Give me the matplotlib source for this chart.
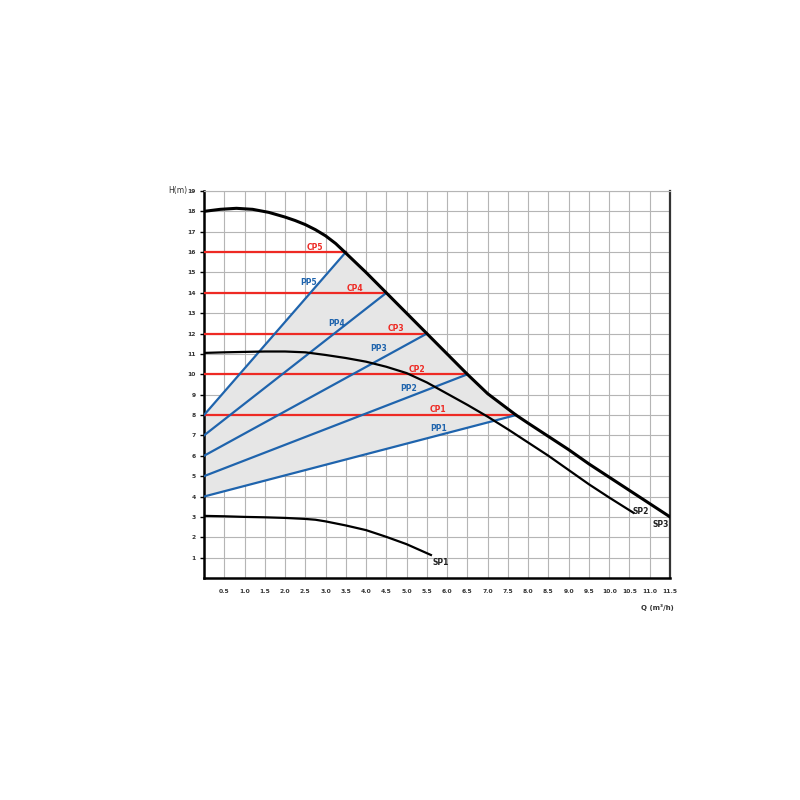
import matplotlib
matplotlib.use("Agg")
import matplotlib.pyplot as plt
import numpy as np

plt.rcParams['font.family'] = ['DejaVu Sans']

# pump curves
sp3_q = [0.0, 0.4, 0.8, 1.2, 1.6, 2.0, 2.25, 2.5, 2.75, 3.0, 3.25, 3.5, 4.0, 4.5, 5.0, 5.5, 6.0, 6.5, 7.0, 7.4, 7.7, 8.0, 8.5, 9.0, 9.5, 10.0, 10.5, 11.0, 11.5]
sp3_h = [18.0, 18.1, 18.15, 18.1, 17.95, 17.72, 17.55, 17.35, 17.1, 16.8, 16.42, 15.95, 15.0, 14.0, 13.0, 12.0, 11.0, 10.0, 9.05, 8.45, 8.0, 7.6, 6.95, 6.3, 5.6, 4.95, 4.3, 3.65, 3.0]
sp2_q = [0.0, 0.5, 1.0, 1.5, 2.0, 2.5, 3.0, 3.5, 4.0, 4.5, 5.0, 5.5, 6.0, 6.5, 7.0, 7.5, 8.0, 8.5, 9.0, 9.5, 10.0, 10.6]
sp2_h = [11.05, 11.08, 11.1, 11.12, 11.12, 11.08, 10.95, 10.8, 10.62, 10.37, 10.06, 9.6, 9.05, 8.5, 7.92, 7.3, 6.65, 6.0, 5.3, 4.6, 3.95, 3.2]
sp1_q = [0.0, 0.5, 1.0, 1.5, 2.0, 2.5, 2.75, 3.0, 3.5, 4.0, 4.5, 5.0, 5.6]
sp1_h = [3.05, 3.03, 3.0, 2.98, 2.95, 2.9, 2.86, 2.78, 2.58, 2.35, 2.02, 1.66, 1.13]

# constant / proportional pressure settings
cp_names = ["CP1", "CP2", "CP3", "CP4", "CP5"]
cp_h = [8, 10, 12, 14, 16]
cp_qend = [7.7, 6.5, 5.5, 4.5, 3.5]
pp_names = ["PP1", "PP2", "PP3", "PP4", "PP5"]
pp_h0 = [4, 5, 6, 7, 8]

cp_lab = [(5.58, 8.25), (5.06, 10.25), (4.54, 12.25), (3.53, 14.2), (2.54, 16.25)]
pp_lab = [(5.58, 7.35), (4.84, 9.3), (4.1, 11.25), (3.06, 12.5), (2.37, 14.5)]

red = "#ee2a24"
blue = "#1f64ad"
lab_kw = dict(fontsize=5.5, fontweight="bold", va="center", zorder=5)

fig = plt.figure(figsize=(8, 8), dpi=100)
ax = fig.add_axes([0.255, 0.2775, 0.5825, 0.48375])

# grey operating area
sp3_q_a = np.array(sp3_q)
sp3_h_a = np.array(sp3_h)
m = (sp3_q_a > cp_qend[-1]) & (sp3_q_a < cp_qend[0])
poly_q = [0, 0, cp_qend[-1]] + list(sp3_q_a[m]) + [cp_qend[0]]
poly_h = [pp_h0[0], pp_h0[-1], cp_h[-1]] + list(sp3_h_a[m]) + [cp_h[0]]
ax.fill(poly_q, poly_h, color="#e6e6e6", zorder=1, lw=0)

for h, qe, name, (lx, ly) in zip(cp_h, cp_qend, cp_names, cp_lab):
    ax.plot([0, qe], [h, h], color=red, lw=1.6, zorder=3)
    ax.text(lx, ly, name, color=red, **lab_kw)

for h0, h, qe, name, (lx, ly) in zip(pp_h0, cp_h, cp_qend, pp_names, pp_lab):
    ax.plot([0, qe], [h0, h], color=blue, lw=1.6, zorder=3)
    ax.text(lx, ly, name, color=blue, **lab_kw)

ax.plot(sp3_q, sp3_h, color="black", lw=2.2, zorder=4, solid_joinstyle="round")
ax.plot(sp2_q, sp2_h, color="black", lw=1.6, zorder=4, solid_joinstyle="round")
ax.plot(sp1_q, sp1_h, color="black", lw=1.6, zorder=4, solid_joinstyle="round")
ax.text(10.57, 3.25, "SP2", color="#222222", **lab_kw)
ax.text(11.06, 2.65, "SP3", color="#222222", **lab_kw)
ax.text(5.63, 0.75, "SP1", color="#222222", **lab_kw)

ax.set_xlim(0, 11.5)
ax.set_ylim(0, 19)
xt = np.arange(0, 11.51, 0.5)
ax.set_xticks(xt)
ax.set_xticklabels([""] + ["%.1f" % v for v in xt[1:]], fontsize=4.3, fontweight="bold", color="#333333")
ax.set_yticks(np.arange(1, 20))
ax.set_yticklabels([str(v) for v in range(1, 20)], fontsize=4.3, fontweight="bold", color="#333333")
ax.tick_params(axis="x", length=0, pad=8)
ax.tick_params(axis="y", length=3, width=1, pad=3)
ax.grid(True, color="#b5b5b5", lw=0.8, zorder=0)
ax.set_axisbelow(True)

for s in ["left", "bottom"]:
    ax.spines[s].set_linewidth(1.8)
ax.spines["right"].set_linewidth(1.6)
ax.spines["right"].set_color("#333333")
ax.spines["top"].set_linewidth(0.8)
ax.spines["top"].set_color("#b5b5b5")

ax.text(-0.42, 19, "H(m)", fontsize=5.5, ha="right", va="center", color="#333333")
ax.text(11.6, -1.45, "Q (m\u00b3/h)", fontsize=5, ha="right", va="center", fontweight="bold", color="#333333")

fig.savefig("out.png", dpi=100)
